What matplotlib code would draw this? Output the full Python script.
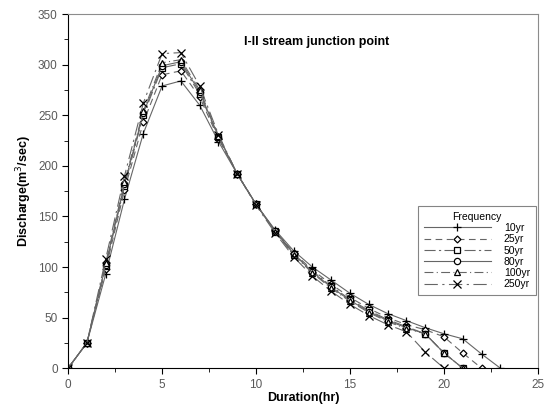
import matplotlib
matplotlib.use("Agg")
import matplotlib.pyplot as plt
from matplotlib.ticker import MultipleLocator

plt.rcParams["font.family"] = ["Liberation Sans", "DejaVu Sans"]

hours_10 = list(range(0, 24))
q_10yr = [0, 25, 93, 167, 232, 279, 284, 260, 224, 192, 162, 137, 116, 100,
          87, 74, 63, 54, 47, 40, 34, 29, 14, 0]
hours_25 = list(range(0, 23))
q_25yr = [0, 25, 98, 176, 243, 290, 294, 268, 227, 192, 162, 136, 114, 97,
          83, 70, 59, 50, 43, 38, 31, 15, 0]
hours_50 = list(range(0, 22))
q_50yr = [0, 25, 101, 180, 250, 297, 301, 271, 229, 192, 162, 136, 113, 96,
          81, 68, 57, 48, 41, 34, 15, 0]
q_80yr = [0, 25, 102, 182, 252, 299, 303, 273, 229, 192, 162, 136, 113, 95,
          80, 67, 56, 47, 40, 34, 15, 0]
q_100yr = [0, 25, 104, 184, 254, 302, 305, 275, 230, 192, 162, 135, 112, 94,
           79, 66, 55, 46, 39, 34, 15, 0]
hours_250 = list(range(0, 21))
q_250yr = [0, 25, 108, 190, 262, 311, 312, 279, 231, 192, 161, 134, 110, 91,
           76, 63, 52, 43, 36, 16, 0]

series = [
    ("10yr", hours_10, q_10yr, "+", "-", 6),
    ("25yr", hours_25, q_25yr, "D", (0, (6, 4)), 3.5),
    ("50yr", hours_50, q_50yr, "s", (0, (10, 3, 2, 3)), 4.5),
    ("80yr", hours_50, q_80yr, "o", "-", 4.5),
    ("100yr", hours_50, q_100yr, "^", (0, (8, 3, 1, 3)), 4.5),
    ("250yr", hours_250, q_250yr, "x", (0, (12, 4, 2, 4)), 5.5),
]

fig = plt.figure(figsize=(5.45, 4.05), dpi=100)
ax = fig.add_axes([0.125, 0.091, 0.862, 0.874])

for label, x, y, marker, ls, ms in series:
    ax.plot(x, y, color="0.4", linestyle=ls, linewidth=0.8,
            marker=marker, markersize=ms, markerfacecolor="white",
            markeredgecolor="black", markeredgewidth=0.9, label=label)

ax.set_xlim(0, 25)
ax.set_ylim(0, 350)
ax.xaxis.set_major_locator(MultipleLocator(5))
ax.xaxis.set_minor_locator(MultipleLocator(2.5))
ax.yaxis.set_major_locator(MultipleLocator(50))
ax.yaxis.set_minor_locator(MultipleLocator(25))
ax.tick_params(which="both", direction="out", labelsize=8.5, labelcolor="0.35")
ax.tick_params(which="major", length=4)
ax.tick_params(which="minor", length=3)
for side in ["top", "right"]:
    ax.spines[side].set_color("0.55")
ax.spines["left"].set_linewidth(0.8)
ax.spines["bottom"].set_linewidth(0.8)

ax.set_xlabel("Duration(hr)", fontsize=9, fontweight="bold", labelpad=1)
ax.set_ylabel("Discharge(m$^3$/sec)", fontsize=9, fontweight="bold", labelpad=3)
ax.text(0.53, 0.92, "I-II stream junction point", transform=ax.transAxes,
        ha="center", va="center", fontsize=9, fontweight="bold")

leg = ax.legend(title="Frequency", loc="upper right",
                bbox_to_anchor=(0.995, 0.458), borderaxespad=0,
                fontsize=7.5, title_fontsize=7.5,
                frameon=True, fancybox=False, edgecolor="0.4",
                handlelength=6.5, handletextpad=1.2, labelspacing=0.12,
                borderpad=0.55)
leg.get_frame().set_linewidth(0.8)

fig.savefig("out.png", dpi=100)
